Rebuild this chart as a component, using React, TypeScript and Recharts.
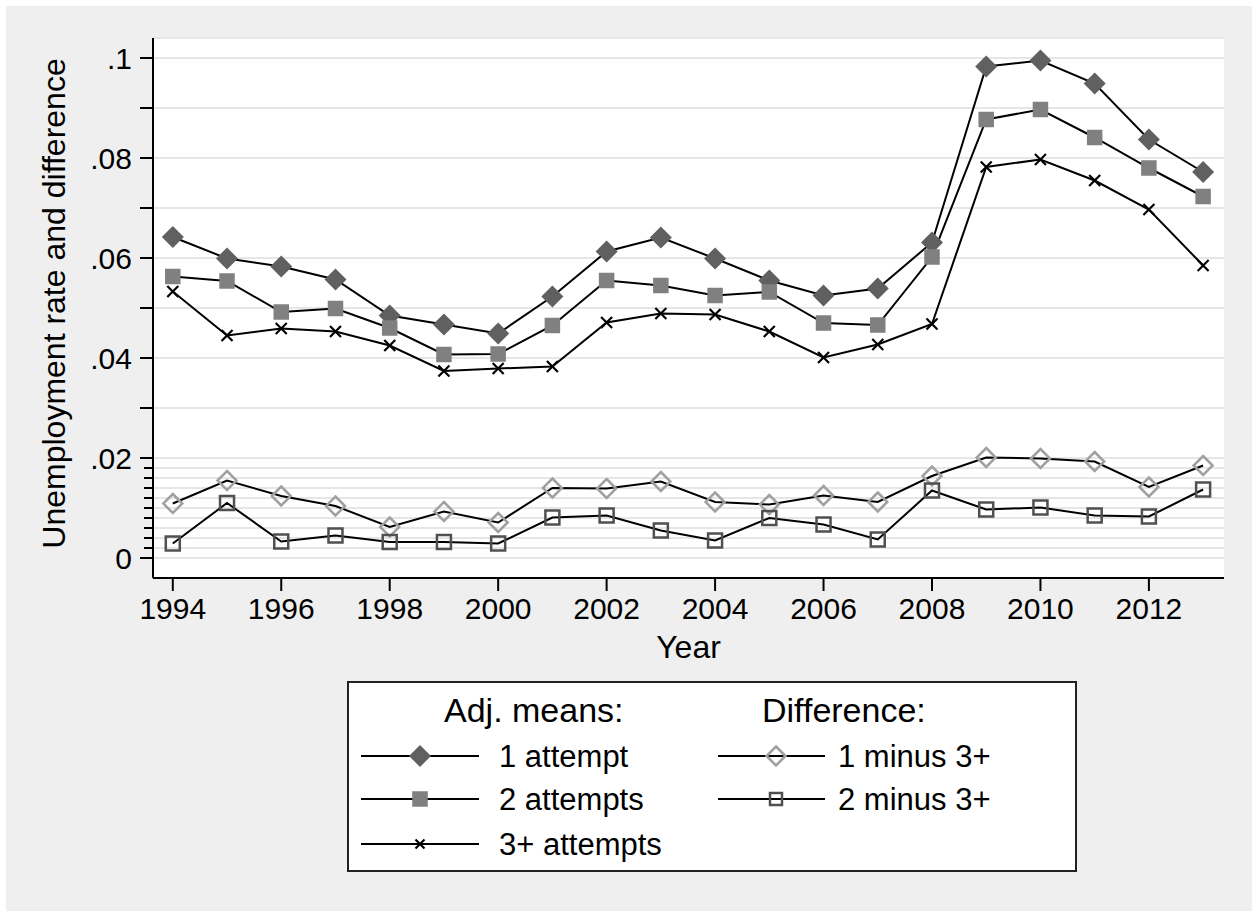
import React from 'react';
import { LineChart, Line, XAxis, YAxis, CartesianGrid, Legend } from 'recharts';

// values
const years = [1994, 1995, 1996, 1997, 1998, 1999, 2000, 2001, 2002, 2003, 2004, 2005, 2006, 2007, 2008, 2009, 2010, 2011, 2012, 2013];
const oneAttempt = [0.0642, 0.0599, 0.0583, 0.0557, 0.0485, 0.0467, 0.0449, 0.0523, 0.0613, 0.0641, 0.0599, 0.0555, 0.0525, 0.0539, 0.0631, 0.0983, 0.0995, 0.0949, 0.0837, 0.0772];
const twoAttempts = [0.0563, 0.0554, 0.0492, 0.0499, 0.046, 0.0407, 0.0408, 0.0465, 0.0555, 0.0545, 0.0525, 0.0532, 0.047, 0.0466, 0.0602, 0.0877, 0.0897, 0.0841, 0.078, 0.0723];
const threePlus = [0.0533, 0.0445, 0.0459, 0.0453, 0.0425, 0.0374, 0.0379, 0.0383, 0.0471, 0.0489, 0.0487, 0.0453, 0.0401, 0.0427, 0.0468, 0.0782, 0.0797, 0.0755, 0.0697, 0.0585];
const oneMinus3 = [0.0109, 0.0155, 0.0124, 0.0104, 0.0062, 0.0093, 0.0071, 0.014, 0.0139, 0.0153, 0.0112, 0.0107, 0.0125, 0.0112, 0.0164, 0.0201, 0.0199, 0.0193, 0.0142, 0.0185];
const twoMinus3 = [0.0029, 0.011, 0.0033, 0.0045, 0.0032, 0.0032, 0.0029, 0.0081, 0.0085, 0.0055, 0.0035, 0.008, 0.0067, 0.0037, 0.0135, 0.0097, 0.0101, 0.0085, 0.0083, 0.0137];

const xTicks = [1994, 1996, 1998, 2000, 2002, 2004, 2006, 2008, 2010, 2012];
const yLabelTicks = [0, 0.02, 0.04, 0.06, 0.08, 0.1];
const yMidTicks = [0.03, 0.05, 0.07, 0.09];
const yFineTicks = [0.002, 0.004, 0.006, 0.008, 0.01, 0.012, 0.014, 0.016, 0.018];

const FONT = '"Liberation Sans", Arial, Helvetica, sans-serif';

const data = years.map((year, i) => ({
  year,
  one: oneAttempt[i],
  two: twoAttempts[i],
  three: threePlus[i],
  d1: oneMinus3[i],
  d2: twoMinus3[i],
}));

const yTicks = [...yLabelTicks, ...yMidTicks, ...yFineTicks].sort((a, b) => a - b);

type Kind = 'diamond' | 'square' | 'cross' | 'hollowDiamond' | 'hollowSquare';

const series: { key: string; name: string; kind: Kind }[] = [
  { key: 'one', name: '1 attempt', kind: 'diamond' },
  { key: 'two', name: '2 attempts', kind: 'square' },
  { key: 'three', name: '3+ attempts', kind: 'cross' },
  { key: 'd1', name: '1 minus 3+', kind: 'hollowDiamond' },
  { key: 'd2', name: '2 minus 3+', kind: 'hollowSquare' },
];

function Marker({ kind, cx, cy, small }: { kind: Kind; cx: number; cy: number; small?: boolean }) {
  if (cx == null || cy == null || isNaN(cx) || isNaN(cy)) return null;
  if (kind === 'diamond') {
    const r = 11;
    return <polygon points={`${cx},${cy - r} ${cx + r},${cy} ${cx},${cy + r} ${cx - r},${cy}`} fill="#606060" />;
  }
  if (kind === 'square') {
    const s = 15.5;
    return <rect x={cx - s / 2} y={cy - s / 2} width={s} height={s} fill="#808080" />;
  }
  if (kind === 'cross') {
    const h = small ? 4.5 : 5.5;
    return (
      <g stroke="#000" strokeWidth={2.2}>
        <line x1={cx - h} y1={cy - h} x2={cx + h} y2={cy + h} />
        <line x1={cx - h} y1={cy + h} x2={cx + h} y2={cy - h} />
      </g>
    );
  }
  if (kind === 'hollowDiamond') {
    const r = small ? 9.5 : 9.5;
    return <polygon points={`${cx},${cy - r} ${cx + r},${cy} ${cx},${cy + r} ${cx - r},${cy}`} fill="none" stroke="#a0a0a0" strokeWidth={2.5} />;
  }
  const s = small ? 12 : 14;
  return <rect x={cx - s / 2} y={cy - s / 2} width={s} height={s} fill="none" stroke="#505050" strokeWidth={2.5} />;
}

function fmtY(v: number) {
  if (v === 0) return '0';
  return String(v).replace(/^0\./, '.');
}

function YTick(props: any) {
  const { x, y, payload } = props;
  const v = payload.value;
  const labelled = yLabelTicks.includes(v);
  const len = labelled || yMidTicks.includes(v) ? 13 : 9;
  return (
    <g>
      <line x1={x - len} x2={x} y1={y} y2={y} stroke="#000" strokeWidth={2} />
      {labelled && (
        <text x={x - 21} y={y} dy="0.36em" textAnchor="end" fontSize={30} fontFamily={FONT} fill="#000">
          {fmtY(v)}
        </text>
      )}
    </g>
  );
}

function XTick(props: any) {
  const { x, y, payload } = props;
  return (
    <g>
      <line x1={x} x2={x} y1={y} y2={y + 13} stroke="#000" strokeWidth={2} />
      <text x={x} y={y + 41} textAnchor="middle" fontSize={30} fontFamily={FONT} fill="#000">
        {payload.value}
      </text>
    </g>
  );
}

function LegendBox() {
  const col1 = series.slice(0, 3);
  const col2 = series.slice(3);
  const rowY = [75, 118, 163];
  return (
    <svg width={730} height={191} style={{ display: 'block' }}>
      <rect x={1} y={1} width={728} height={189} fill="#fff" stroke="#222" strokeWidth={2} />
      <text x={97} y={41} fontSize={34} fontFamily={FONT} fill="#000">Adj. means:</text>
      <text x={415} y={41} fontSize={34} fontFamily={FONT} fill="#000">Difference:</text>
      {col1.map((s, i) => (
        <g key={s.key}>
          <line x1={14} x2={132} y1={rowY[i]} y2={rowY[i]} stroke="#000" strokeWidth={2} />
          <Marker kind={s.kind} cx={73} cy={rowY[i]} small />
          <text x={152} y={rowY[i] + 11} fontSize={31} fontFamily={FONT} fill="#000">{s.name}</text>
        </g>
      ))}
      {col2.map((s, i) => (
        <g key={s.key}>
          <line x1={371} x2={478} y1={rowY[i]} y2={rowY[i]} stroke="#000" strokeWidth={2} />
          <Marker kind={s.kind} cx={429} cy={rowY[i]} small />
          <text x={491} y={rowY[i] + 11} fontSize={31} fontFamily={FONT} fill="#000">{s.name}</text>
        </g>
      ))}
    </svg>
  );
}

export default function App() {
  return (
    <div style={{ position: 'absolute', left: 0, top: 0, width: 1252, height: 911, background: '#fff' }}>
      <div style={{ position: 'absolute', left: 6, top: 6, width: 1246, height: 905, background: '#efefef' }}>
        <LineChart width={1246} height={905} data={data} margin={{ top: 32, right: 28, left: 0, bottom: 0 }}>
          <CartesianGrid vertical={false} stroke="#e6e6e6" strokeWidth={2} fill="#fff" />
          <XAxis
            type="number"
            dataKey="year"
            domain={[1993.635, 2013.385]}
            ticks={xTicks}
            interval={0}
            height={333}
            tickSize={0}
            tickMargin={0}
            tickLine={false}
            axisLine={{ stroke: '#000', strokeWidth: 2 }}
            tick={<XTick />}
            label={(p: any) => {
              const vb = p.viewBox;
              return (
                <text x={vb.x + vb.width / 2} y={vb.y + 80} textAnchor="middle" fontSize={32} fontFamily={FONT} fill="#000">
                  Year
                </text>
              );
            }}
          />
          <YAxis
            type="number"
            domain={[-0.004, 0.104]}
            ticks={yTicks}
            interval={0}
            width={147}
            tickSize={0}
            tickMargin={0}
            tickLine={false}
            axisLine={{ stroke: '#000', strokeWidth: 2 }}
            tick={<YTick />}
            label={(p: any) => {
              const vb = p.viewBox;
              const cx = 59;
              const cy = vb.y + vb.height / 2 - 4.5;
              return (
                <text x={cx} y={cy} transform={`rotate(-90, ${cx}, ${cy})`} textAnchor="middle" fontSize={32} fontFamily={FONT} fill="#000">
                  Unemployment rate and difference
                </text>
              );
            }}
          />
          {series.map((s) => (
            <Line
              key={s.key}
              type="linear"
              dataKey={s.key}
              name={s.name}
              stroke="#000"
              strokeWidth={2}
              isAnimationActive={false}
              activeDot={false}
              dot={(p: any) => <Marker key={`${s.key}-${p.index}`} kind={s.kind} cx={p.cx} cy={p.cy} />}
            />
          ))}
          <Legend
            layout="horizontal"
            verticalAlign="middle"
            align="center"
            content={() => <LegendBox />}
            wrapperStyle={{ left: 341, top: 675, width: 730, height: 191 }}
          />
        </LineChart>
      </div>
    </div>
  );
}
